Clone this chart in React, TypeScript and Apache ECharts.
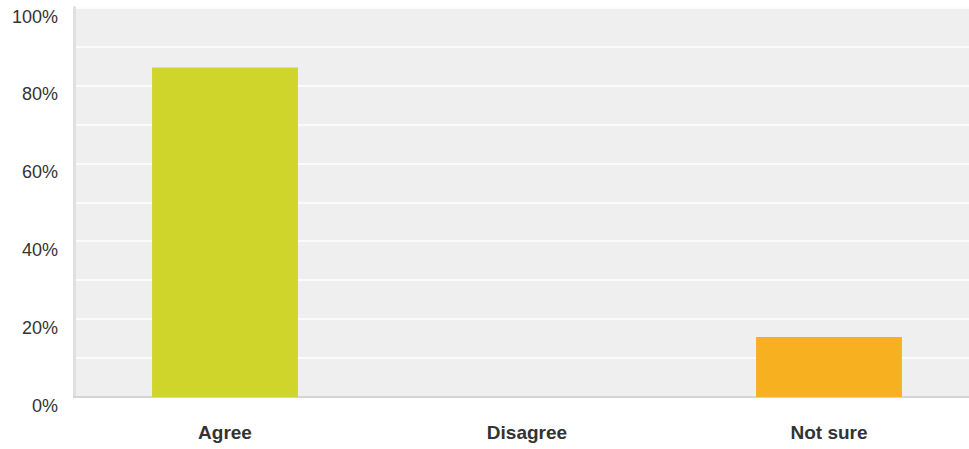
import React, { useEffect, useRef } from "react";
import * as echarts from "echarts";

const categories = ["Agree", "Disagree", "Not sure"];
const values = [84.62, 0, 15.38];
const barColors = ["#cfd52a", "#9fc33c", "#f6b020"];
const yTicks = [0, 20, 40, 60, 80, 100];

export default function App() {
  const ref = useRef<HTMLDivElement>(null);
  useEffect(() => {
    if (!ref.current) return;
    const chart = echarts.init(ref.current, null, { renderer: "svg" });
    chart.setOption({
      animation: false,
      grid: {
        left: 74,
        right: 0,
        top: 7.6,
        bottom: 52,
        show: true,
        backgroundColor: "#efefef",
        borderWidth: 0,
      },
      xAxis: {
        type: "category",
        data: categories,
        axisLine: { show: true, lineStyle: { color: "#d4d4d4", width: 2 } },
        axisTick: { show: false },
        axisLabel: {
          margin: 26,
          fontFamily: "Liberation Sans, Arial, sans-serif",
          fontSize: 19,
          fontWeight: "bold",
          color: "#333333",
        },
      },
      yAxis: {
        type: "value",
        min: 0,
        max: 100,
        interval: 10,
        axisLine: { show: true, lineStyle: { color: "#e0e0e0", width: 3 } },
        axisTick: { show: false },
        splitLine: { show: true, lineStyle: { color: "#ffffff", width: 1.5 } },
        axisLabel: {
          margin: 16,
          fontFamily: "Liberation Sans, Arial, sans-serif",
          fontSize: 18,
          color: "#333333",
          verticalAlign: "top",
          formatter: (v: number) => (yTicks.includes(v) ? v + "%" : ""),
        },
      },
      series: [
        {
          type: "bar",
          barWidth: "48.3%",
          data: values.map((v, i) => ({ value: v, itemStyle: { color: barColors[i] } })),
        },
      ],
    });
    return () => chart.dispose();
  }, []);
  return (
    <div
      style={{ position: "fixed", left: 0, top: 0, width: 969, height: 449, overflow: "hidden", background: "#ffffff" }}
    >
      <div ref={ref} style={{ width: 980, height: 449 }} />
    </div>
  );
}
